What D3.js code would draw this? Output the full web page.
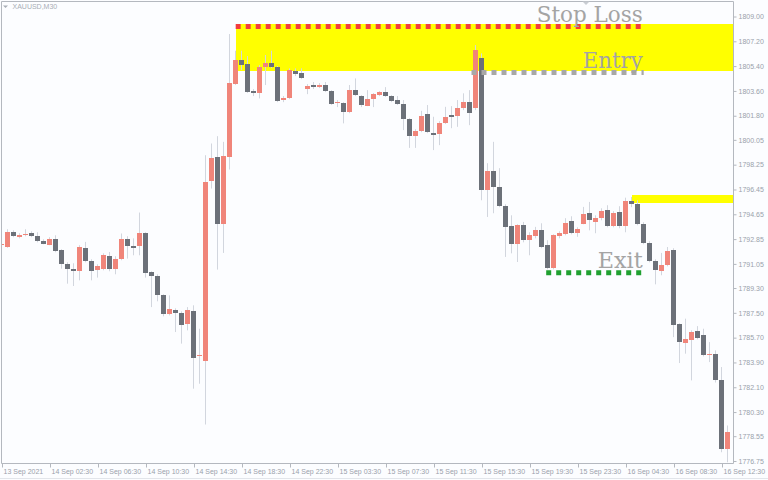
<!DOCTYPE html>
<html><head><meta charset="utf-8">
<script src="https://cdn.jsdelivr.net/npm/d3@7"></script>
<style>html,body{margin:0;padding:0;background:#fcfdff;}svg{display:block}</style>
</head><body>
<svg id="c" width="768" height="480"></svg>
<script>
// ---- data (XAUUSD M30 bars, index 0 = 13 Sep 2021 22:30) ----
const opens  = [1792.40,1792.24,1793.33,1793.00,1793.11,1793.24,1793.02,1792.68,1792.42,1792.85,
                1792.00,1791.04,1790.67,1790.53,1792.17,1791.23,1790.60,1790.67,1791.59,1790.62,
                1791.40,1792.85,1792.31,1792.31,1793.22,1790.40,1790.11,1788.78,1787.40,1787.69,
                1787.48,1786.63,1787.59,1784.33,1783.96,1797.04,1798.78,1793.89,1798.78,1804.06,
                1805.80,1805.49,1803.55,1803.43,1805.30,1805.61,1805.32,1802.88,1803.04,1805.00,
                1804.84,1803.68,1803.99,1803.86,1803.99,1803.57,1802.68,1802.66,1802.01,1803.62,
                1803.19,1802.48,1802.95,1803.26,1803.50,1803.19,1802.88,1802.61,1801.52,1800.31,
                1800.67,1801.88,1800.50,1800.41,1801.25,1801.81,1801.74,1802.30,1802.78,1802.30,
                1805.97,1796.41,1797.74,1796.60,1795.22,1793.77,1792.44,1793.82,1792.73,1793.02,
                1793.45,1792.37,1790.75,1793.02,1793.16,1794.13,1793.26,1793.94,1794.74,1794.06,
                1794.31,1794.96,1793.77,1794.78,1793.77,1795.56,1795.39,1793.94,1792.56,1791.23,
                1790.50,1790.91,1792.05,1786.63,1785.27,1785.46,1786.12,1785.83,1784.41,1784.45,
                1782.61,1777.55];
const highs  = [1792.55,1793.53,1793.45,1793.24,1793.53,1793.38,1793.31,1792.80,1792.95,1793.09,
                1792.08,1791.13,1791.06,1792.37,1792.61,1791.35,1790.99,1791.78,1791.88,1791.57,
                1793.22,1793.02,1792.87,1794.74,1793.31,1790.48,1790.26,1788.81,1788.73,1787.79,
                1787.57,1787.88,1788.01,1786.31,1798.90,1799.75,1800.28,1799.87,1807.69,1806.48,
                1806.48,1806.09,1803.70,1805.44,1806.17,1806.48,1805.37,1803.19,1805.20,1805.20,
                1805.20,1804.06,1804.21,1804.13,1804.21,1803.62,1802.90,1802.75,1803.99,1804.47,
                1803.26,1803.62,1803.41,1803.55,1803.84,1803.26,1803.19,1802.90,1801.59,1800.79,
                1802.12,1802.54,1801.69,1801.37,1802.41,1802.46,1802.90,1803.39,1803.62,1806.89,
                1806.29,1798.32,1799.87,1797.96,1795.34,1794.54,1793.89,1794.06,1793.31,1793.70,
                1793.96,1792.73,1793.16,1793.38,1794.33,1794.47,1793.67,1795.15,1795.51,1794.54,
                1795.05,1795.27,1794.84,1795.20,1795.82,1795.87,1795.63,1794.04,1792.66,1791.35,
                1791.81,1792.24,1792.15,1786.70,1787.04,1786.19,1786.50,1786.31,1785.34,1784.74,
                1783.53,1779.29];
const lows   = [1792.30,1792.18,1792.95,1792.87,1793.02,1792.95,1792.58,1792.44,1792.37,1791.86,
                1790.67,1789.58,1789.41,1789.82,1791.13,1789.82,1790.02,1790.55,1790.48,1790.26,
                1791.28,1791.40,1791.64,1791.64,1790.02,1787.88,1788.30,1787.21,1787.28,1786.07,
                1785.23,1786.19,1781.96,1782.32,1779.36,1796.48,1790.60,1791.81,1797.86,1803.99,
                1805.08,1803.41,1803.19,1803.02,1803.99,1805.22,1802.75,1802.75,1802.97,1804.64,
                1804.42,1803.33,1803.70,1803.77,1803.48,1802.54,1802.39,1801.21,1801.95,1803.19,
                1802.39,1802.46,1802.39,1803.19,1803.12,1802.75,1802.54,1800.72,1799.43,1799.43,
                1800.57,1800.50,1799.27,1799.63,1801.16,1800.86,1800.96,1802.17,1801.08,1802.17,
                1795.63,1794.42,1794.69,1795.13,1791.52,1791.78,1791.15,1792.58,1791.64,1792.87,
                1792.15,1790.62,1790.62,1792.87,1793.09,1793.16,1792.98,1793.89,1793.45,1793.24,
                1794.18,1793.67,1793.67,1793.60,1793.31,1795.13,1793.82,1792.44,1791.13,1789.53,
                1790.19,1790.84,1785.70,1783.82,1784.50,1782.56,1785.54,1784.30,1783.89,1782.41,
                1777.35,1776.62];
const closes = [1792.45,1793.33,1793.02,1793.08,1793.18,1793.04,1792.68,1792.49,1792.85,1791.93,
                1791.04,1790.67,1790.53,1792.24,1791.23,1790.53,1790.84,1791.64,1790.62,1791.40,
                1792.85,1792.31,1792.20,1793.22,1790.35,1790.16,1788.78,1787.35,1787.72,1787.48,
                1786.61,1787.64,1784.21,1784.40,1796.96,1798.71,1793.89,1798.83,1804.11,1805.80,
                1805.44,1803.50,1803.43,1805.32,1805.61,1805.30,1802.83,1803.07,1805.06,1804.77,
                1804.52,1803.94,1803.82,1803.99,1803.55,1802.61,1802.78,1802.05,1803.62,1803.26,
                1802.54,1802.97,1803.31,1803.50,1803.19,1802.83,1802.63,1801.52,1800.31,1800.67,
                1801.76,1800.60,1800.36,1801.21,1801.64,1801.69,1802.30,1802.78,1801.93,1806.53,
                1796.41,1797.74,1796.60,1795.22,1793.70,1792.44,1793.82,1792.73,1793.09,1793.45,
                1792.24,1790.75,1793.09,1793.26,1793.99,1793.26,1793.53,1794.60,1794.18,1794.38,
                1794.86,1793.77,1794.74,1793.77,1795.56,1795.39,1793.94,1792.56,1791.23,1790.60,
                1790.91,1791.95,1786.61,1785.34,1785.54,1786.07,1785.66,1784.43,1784.46,1782.56,
                1777.60,1778.80];

const xTickIndex  = [0,8,16,24,32,40,48,56,64,72,80,88,96,104,112,120];
const xTickLabels = ["13 Sep 2021","14 Sep 02:30","14 Sep 06:30","14 Sep 10:30","14 Sep 14:30",
                     "14 Sep 18:30","14 Sep 22:30","15 Sep 03:30","15 Sep 07:30","15 Sep 11:30",
                     "15 Sep 15:30","15 Sep 19:30","15 Sep 23:30","16 Sep 04:30","16 Sep 08:30",
                     "16 Sep 12:30"];
const yTickValues = [1809.00,1807.20,1805.40,1803.60,1801.80,1800.05,1798.25,1796.45,1794.65,
                     1792.85,1791.05,1789.30,1787.50,1785.70,1783.90,1782.10,1780.30,1778.55,1776.75];

const chartTitle = "XAUUSD,M30";
// trade levels
const levelNames  = ["Stop Loss","Entry","Exit"];
const levelPrices = [1808.24,1804.90,1790.37];
const levelStart  = [39,78.3,90.75];
const levelEnd    = [107,107,107];
// highlighted zones
const zoneTop    = [1808.42,1796.00];
const zoneBottom = [1805.00,1795.42];
const zoneStart  = [39,105];

// ---- styling / layout ----
const W=768,H=480, PL=1.5, PR=733.5, PT=1.5, PB=463.5;
const bull="#f0857a", bear="#6c7179", wickCol="#d2d6de";
const levelColors=["#f23c3c","#a8a8a8","#20a030"];
const textCol="#9aa1ab", lineCol="#b4b8bf";
const svg=d3.select("#c");

svg.append("rect").attr("width",W).attr("height",H).attr("fill","#fcfdff");

const x=d3.scaleLinear().domain([0,121]).range([1.7,727.7]);
const y=d3.scaleLinear().domain([1776.75,1809.00]).range([460.5,16]);

svg.append("defs").append("clipPath").attr("id","plot")
  .append("rect").attr("x",2).attr("y",2).attr("width",PR-2.5).attr("height",PB-2.5);

const plot=svg.append("g").attr("clip-path","url(#plot)");

// zones
plot.selectAll("rect.zone").data(zoneTop).join("rect").attr("class","zone")
  .attr("x",(d,i)=>Math.round(x(zoneStart[i])))
  .attr("y",(d,i)=>Math.round(y(zoneTop[i])))
  .attr("width",(d,i)=>PR-Math.round(x(zoneStart[i])))
  .attr("height",(d,i)=>Math.round(y(zoneBottom[i]))-Math.round(y(zoneTop[i])))
  .attr("fill","#ffff00");

// candles
const idx=d3.range(opens.length);
const bx=i=>Math.round(x(i)-2.5);
plot.append("g").selectAll("line").data(idx).join("line")
  .attr("x1",i=>bx(i)+2.5).attr("x2",i=>bx(i)+2.5)
  .attr("y1",i=>y(highs[i])).attr("y2",i=>y(lows[i]))
  .attr("stroke",wickCol).attr("stroke-width",1);
plot.append("g").selectAll("rect").data(idx).join("rect")
  .attr("x",bx).attr("width",5)
  .attr("y",i=>Math.round(y(Math.max(opens[i],closes[i]))))
  .attr("height",i=>Math.max(1,Math.round(y(Math.min(opens[i],closes[i])))-Math.round(y(Math.max(opens[i],closes[i])))))
  .attr("fill",i=>closes[i]>=opens[i]?bull:bear)
  .attr("shape-rendering","crispEdges");

// level dotted lines
plot.append("g").selectAll("line").data(levelPrices).join("line")
  .attr("x1",(d,i)=>x(levelStart[i])).attr("x2",(d,i)=>x(levelEnd[i]))
  .attr("y1",d=>y(d)).attr("y2",d=>y(d))
  .attr("stroke",(d,i)=>levelColors[i]).attr("stroke-width",5)
  .attr("stroke-dasharray","5 5");

// level labels
const labelW=[106,60,45];
svg.append("g").selectAll("text").data(levelNames).join("text")
  .attr("x",(d,i)=>x(levelEnd[i])-1).attr("y",(d,i)=>y(levelPrices[i])-4.5)
  .attr("text-anchor","end")
  .attr("font-family","'DejaVu Serif', serif").attr("font-size",23)
  .attr("fill","#a4a4a4")
  .attr("textLength",(d,i)=>labelW[i]).attr("lengthAdjust","spacingAndGlyphs")
  .text(d=>d);

// axes
const yAxis=d3.axisRight(y).tickValues(yTickValues).tickSize(3).tickPadding(2)
  .tickFormat(d3.format(".2f"));
const gy=svg.append("g").attr("transform",`translate(${PR},0.5)`).call(yAxis);
const xAxis=d3.axisBottom(x).tickValues(xTickIndex).tickSize(4).tickPadding(2)
  .tickFormat((d,i)=>xTickLabels[i]);
const gx=svg.append("g").attr("transform",`translate(0.3,${PB})`).call(xAxis);
[gx,gy].forEach(g=>{
  g.select(".domain").remove();
  g.selectAll("line").attr("stroke",lineCol);
  g.selectAll("text").attr("fill",textCol).attr("font-family","'Liberation Sans', Arial, sans-serif").attr("font-size",7);
});
gx.selectAll("text").attr("text-anchor","start").attr("x",1);

// frame
const frame=svg.append("g").attr("stroke",lineCol).attr("stroke-width",1).attr("fill","none");
frame.append("line").attr("x1",PL).attr("x2",PL).attr("y1",PT).attr("y2",PB);
frame.append("line").attr("x1",PL).attr("x2",PR).attr("y1",PT).attr("y2",PT);
frame.append("line").attr("x1",PR).attr("x2",PR).attr("y1",PT).attr("y2",PB);
frame.append("line").attr("x1",PL).attr("x2",PR).attr("y1",PB).attr("y2",PB);
svg.append("line").attr("x1",0).attr("x2",W).attr("y1",478.5).attr("y2",478.5).attr("stroke","#e2e5ea");

// title
svg.append("path").attr("d","M3,5.5 L8,5.5 L5.5,8 Z").attr("fill","#a8aeb6");
svg.append("text").attr("x",12.5).attr("y",9.2).attr("fill","#a8aeb6")
  .attr("font-family","'Liberation Sans', Arial, sans-serif").attr("font-size",7).text(chartTitle);
// shift marker
svg.append("path").attr("d","M582.5,1.5 L589.5,1.5 L586,5 Z").attr("fill","#c8ccd2");
</script>
</body></html>
